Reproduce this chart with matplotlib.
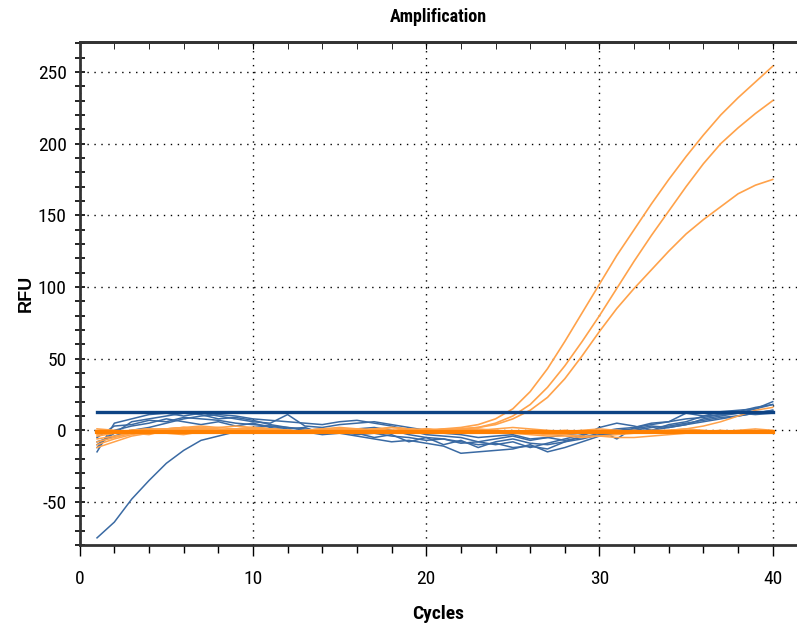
import numpy as np
import matplotlib.pyplot as plt
from matplotlib.ticker import MultipleLocator

plt.rcParams['font.family'] = ['Roboto Condensed', 'Liberation Sans', 'DejaVu Sans']
plt.rcParams['axes.unicode_minus'] = False

cycles = np.arange(1, 41)

# wells with amplification (FAM, orange)
amp_a = [1, 0, -1, 0, 1, 2, 1, 0, 1, 2, 1, 0, -1, 0, 1, 0, 1, 2, 1, 0, 1, 2,
         4, 8, 15, 27, 43, 62, 82, 102, 122, 140, 158, 175, 191, 206, 220, 232, 243, 254]
amp_b = [-4, -2, 0, 1, 0, 1, 2, 1, 0, 1, 0, -1, 0, 1, 2, 1, 0, -1, 0, 1, 0, 1,
         2, 5, 10, 18, 30, 45, 62, 80, 99, 118, 136, 153, 170, 186, 200, 211, 221, 230]
amp_c = [-8, -5, -2, -1, 0, 1, 0, -1, 0, 1, 1, 0, -1, 0, 0, 1, 0, -1, 0, 0, 0, 1,
         2, 4, 8, 14, 23, 36, 52, 69, 85, 99, 112, 125, 137, 147, 156, 165, 171, 175]

# negative wells, orange
neg_o1 = [-3, -1, 0, 1, 1, 2, 3, 2, 1, 0, 0, -1, 0, 1, 0, -1, 0, 2, 1, 0,
          0, 1, 0, -1, -2, -3, -4, -4, -5, -4, -3, -2, -1, 0, 1, 3, 6, 10, 14, 16]
neg_o2 = [-10, -6, -3, -1, -2, -3, -1, 0, 1, 2, 1, 0, -1, -2, -1, 0, 1, 0, -1, 0,
          -1, -2, -1, 0, -1, -2, -3, -3, -4, -4, -5, -5, -4, -3, -2, -1, 0, -1, 0, -1]
neg_o3 = [-12, -8, -4, -2, -1, 0, 1, 2, 3, 2, 1, 0, -1, 0, 1, 0, -1, 0, 1, 0,
          1, 0, -1, -2, -1, 0, -1, -2, -1, -1, 0, -1, -2, -1, 0, -1, -2, -1, -1, -2]
neg_o4 = [-6, -4, -2, -3, 0, -1, -2, 0, 1, 0, -1, -2, -1, 0, 1, 0, -1, -2, -1, 0,
          -1, 0, 1, 0, -1, -2, -1, 0, -1, -2, -1, 0, -1, -2, -1, -1, -2, -1, -1, -2]
neg_o5 = [-2, -2, -1, 0, 1, 2, 1, 0, -1, 0, 1, 0, -1, 0, 0, 1, 0, -1, 0, 1,
          0, -1, 0, 1, 2, 1, 0, -1, 0, 1, 0, -1, 0, 0, 1, 0, -1, 0, 1, 0]

# second channel (blue)
blue_1 = [-75, -64, -48, -35, -23, -14, -7, -4, -1, 2, 3, 1, 2, -2, 0, 1, 2, 0, -3, -5,
          -6, -8, -10, -9, -12, -11, -13, -8, -6, -3, -2, -1, 0, 2, 4, 6, 8, 10, 12, 14]
blue_2 = [-15, 5, 8, 11, 12, 10, 12, 10, 8, 6, 5, 11, 3, 2, 4, 5, 6, 4, 2, 0,
          -2, -3, -5, -4, -3, -6, -5, -7, -5, -2, 0, 1, 3, 2, 4, 8, 10, 12, 15, 20]
blue_3 = [-10, -2, 6, 8, 10, 12, 11, 8, 9, 7, 4, 2, 1, -1, 0, -2, -5, -3, -8, -5,
          -10, -7, -12, -8, -6, -9, -10, -8, -4, 2, 5, 3, 0, 4, 6, 10, 13, 14, 15, 18]
blue_4 = [-12, 0, 3, 5, 8, 6, 4, 6, 3, 5, 2, 0, -1, -3, -2, -4, -6, -8, -7, -9,
          -11, -16, -15, -14, -13, -10, -15, -12, -8, -4, -2, 0, 2, 3, 5, 7, 9, 10, 12, 14]
blue_5 = [-8, -4, 0, 2, 5, 8, 10, 11, 10, 8, 7, 6, 5, 4, 6, 7, 5, 3, 0, -3,
          -4, -5, -8, -10, -8, -12, -9, -6, -3, -1, 1, 2, 4, 6, 8, 9, 11, 12, 11, 12]
blue_6 = [-5, 3, 4, 7, 6, 9, 8, 7, 5, 4, 3, 2, 0, 1, -1, -3, -2, -4, -5, -7,
          -6, -9, -8, -6, -4, -7, -5, -3, -2, 0, -6, 2, 5, 6, 12, 10, 11, 13, 16, 18]

blue_threshold = 13
orange_threshold = -1

blue_col = '#3a6aa3'
orange_col = '#ffa24a'

fig = plt.figure(figsize=(7.97, 6.29), dpi=100)
ax = fig.add_axes([0.1, 0.1335, 0.9, 0.8])

for s in [blue_1, blue_2, blue_3, blue_4, blue_5, blue_6]:
    ax.plot(cycles, s, color=blue_col, lw=1.1, zorder=3)
for s in [neg_o1, neg_o2, neg_o3, neg_o4, neg_o5]:
    ax.plot(cycles, s, color=orange_col, lw=1.1, zorder=3)
for s in [amp_a, amp_b, amp_c]:
    ax.plot(cycles, s, color=orange_col, lw=1.2, zorder=3)

ax.plot([cycles[0], cycles[-1]], [blue_threshold] * 2, color='#0d4384', lw=2.4, zorder=4)
ax.plot([cycles[0], cycles[-1]], [orange_threshold] * 2, color='#ff8000', lw=3.0, zorder=4)

ax.set_xlim(0, 41.4)
ax.set_ylim(-80, 271)
ax.xaxis.set_major_locator(MultipleLocator(10))
ax.xaxis.set_minor_locator(MultipleLocator(2))
ax.yaxis.set_major_locator(MultipleLocator(50))
ax.yaxis.set_minor_locator(MultipleLocator(10))
ax.grid(True, which='major', color='black', linestyle=(0, (1, 4)), lw=1.0)

ax.tick_params(axis='y', which='both', direction='inout', length=7, width=1.2, labelsize=14, pad=6)
ax.tick_params(axis='x', which='major', direction='out', length=8, width=1.0, labelsize=14, pad=10)
ax.tick_params(axis='x', which='minor', direction='out', length=6, width=1.0)

top = ax.secondary_xaxis('top')
top.xaxis.set_major_locator(MultipleLocator(10))
top.xaxis.set_minor_locator(MultipleLocator(2))
top.tick_params(which='both', direction='in', length=5, labeltop=False)
top.spines['top'].set_linewidth(2)
top.spines['top'].set_color('#333333')

for side in ['left', 'bottom', 'top']:
    ax.spines[side].set_linewidth(2)
    ax.spines[side].set_color('#333333')
ax.spines['right'].set_visible(False)

ax.set_xlabel('Cycles', fontsize=14, fontweight='bold', labelpad=12)
ax.set_ylabel('RFU', fontsize=13, fontweight='bold', family=['Liberation Sans', 'DejaVu Sans'], labelpad=2)
ax.set_title('Amplification', fontsize=13, fontweight='bold', pad=14)

fig.savefig('out.png', dpi=100)
